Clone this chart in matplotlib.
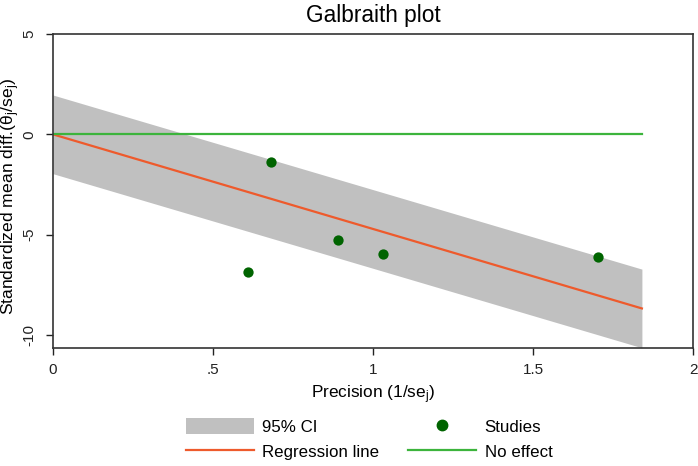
import numpy as np
import matplotlib
matplotlib.use("Agg")
import matplotlib.pyplot as plt
from matplotlib.patches import Patch
from matplotlib.lines import Line2D

plt.rcParams['font.family'] = ['Liberation Sans', 'DejaVu Sans']
plt.rcParams['mathtext.fontset'] = 'custom'
plt.rcParams['mathtext.rm'] = 'Liberation Sans'
plt.rcParams['mathtext.it'] = 'Liberation Sans:italic'

# data
precision = [0.681, 0.610, 0.889, 1.032, 1.702]
std_effect = [-1.36, -6.88, -5.26, -5.97, -6.10]
x_end = 1.84
ci_half = 1.96
x_ticks = [0, 0.5, 1, 1.5, 2]
x_ticklabels = ["0", ".5", "1", "1.5", "2"]
y_ticks = [-10, -5, 0, 5]
y_ticklabels = ["-10", "-5", "0", "5"]

px = np.array(precision)
py = np.array(std_effect)
slope = np.sum(px * py) / np.sum(px * px)

fig = plt.figure(figsize=(6.98, 4.66), dpi=100)
ax = fig.add_axes([0.0759, 0.253, 0.9171, 0.674])

xs = np.array([0, x_end])
ci_col = '#c0c0c0'
reg_col = '#ee5a2c'
no_col = '#3cb43c'
pt_col = '#006400'

ax.fill_between(xs, slope * xs - ci_half, slope * xs + ci_half, color=ci_col, lw=0, zorder=1)
ax.plot(xs, slope * xs, color=reg_col, lw=1.6, zorder=2)
ax.plot(xs, [0, 0], color=no_col, lw=1.6, zorder=2)
ax.scatter(px, py, s=55, color=pt_col, zorder=3, linewidths=0)

ax.set_xlim(0, 2)
ax.set_ylim(-10.65, 5)
ax.set_xticks(x_ticks)
ax.set_xticklabels(x_ticklabels)
ax.set_yticks(y_ticks)
ax.set_yticklabels(y_ticklabels, rotation=90, va='center')
ax.tick_params(direction='out', length=5, width=1, colors='#222222')
ax.tick_params(axis='x', labelsize=11, pad=6)
ax.tick_params(axis='y', labelsize=11, pad=7)
for s in ax.spines.values():
    s.set_color('#333333')
    s.set_linewidth(1.2)

ax.set_title('Galbraith plot', fontsize=16.3, pad=9)
ax.set_xlabel('Precision (1/se$_\\mathregular{j}$)', fontsize=12.4, labelpad=4)
ax.set_ylabel('Standardized mean diff.(θ$_\\mathregular{j}$/se$_\\mathregular{j}$)', fontsize=12.6)
ax.yaxis.label.set_va('center')
ax.yaxis.set_label_coords(-0.066, 0.484)

handles = [
    Patch(facecolor=ci_col, edgecolor='none', label='95% CI'),
    Line2D([], [], color=reg_col, lw=1.6, label='Regression line'),
    Line2D([], [], color=pt_col, marker='o', ls='none', markersize=7.5, label='Studies'),
    Line2D([], [], color=no_col, lw=1.6, label='No effect'),
]
fig.legend(handles=handles, ncol=2, loc='center', bbox_to_anchor=(0.529, 0.058),
           frameon=False, fontsize=12.2, handlelength=4.0, handleheight=1.0,
           columnspacing=1.7, handletextpad=0.5, labelspacing=0.5, borderpad=0)

fig.savefig('out.png', dpi=100)
